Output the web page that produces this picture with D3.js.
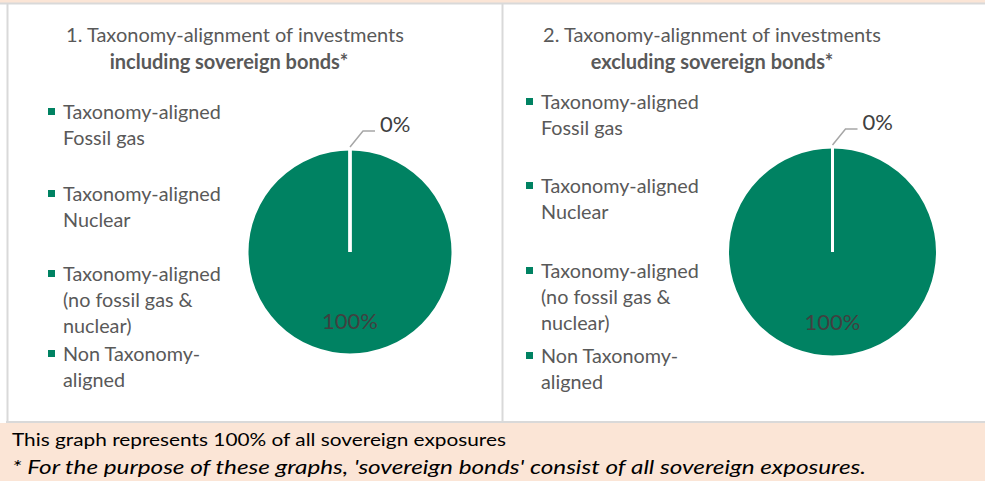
<!DOCTYPE html>
<html><head><meta charset="utf-8">
<script src="https://cdn.jsdelivr.net/npm/d3@7"></script>
<style>
html,body{margin:0;padding:0;background:#fff;}
svg{display:block;}
</style></head>
<body>
<svg id="c" width="985" height="481"></svg>
<script>
// ---- data ----
const categories = ["Taxonomy-aligned Fossil gas","Taxonomy-aligned Nuclear","Taxonomy-aligned (no fossil gas & nuclear)","Non Taxonomy-aligned"];
const legendLines = [["Taxonomy-aligned","Fossil gas"],["Taxonomy-aligned","Nuclear"],["Taxonomy-aligned","(no fossil gas &","nuclear)"],["Non Taxonomy-","aligned"]];
const valuesIncluding = [0,0,0,100];
const valuesExcluding = [0,0,0,100];
const titleLine1 = ["1. Taxonomy-alignment of investments","2. Taxonomy-alignment of investments"];
const titleLine2 = ["including sovereign bonds*","excluding sovereign bonds*"];
const footnote1 = "This graph represents 100% of all sovereign exposures";
const footnote2 = "* For the purpose of these graphs, 'sovereign bonds' consist of all sovereign exposures.";

const GREEN = "#008262", PEACH = "#FBE5D6", LINE = "#D9D9D9", TXT = "#595959";
const FONT = "Lato, 'Open Sans', sans-serif";
const svg = d3.select("#c");

// backgrounds
svg.append("rect").attr("x",0).attr("y",0).attr("width",985).attr("height",3).attr("fill",PEACH);
svg.append("rect").attr("x",0).attr("y",423).attr("width",985).attr("height",58).attr("fill",PEACH);
svg.append("line").attr("x1",0).attr("x2",985).attr("y1",3.5).attr("y2",3.5).attr("stroke",LINE).attr("stroke-width",2);
svg.append("line").attr("x1",6).attr("x2",985).attr("y1",422).attr("y2",422).attr("stroke",LINE).attr("stroke-width",2);
svg.append("line").attr("x1",7.5).attr("x2",7.5).attr("y1",3).attr("y2",422).attr("stroke",LINE).attr("stroke-width",2);
svg.append("line").attr("x1",502.5).attr("x2",502.5).attr("y1",3).attr("y2",422).attr("stroke",LINE).attr("stroke-width",2);

const panels = [
  {values: valuesIncluding, cx:350, cy:252, r:103, titleX:235, t2X:229, legX:48, legY:[112,194,274,354]},
  {values: valuesExcluding, cx:832.5, cy:252, r:105, titleX:712, t2X:712, legX:526, legY:[102,186,271,356]}
];

const pie = d3.pie().sort(null).value(d=>d);
panels.forEach((p,i)=>{
  const g = svg.append("g");
  // title
  g.append("text").attr("x",p.titleX).attr("y",42).attr("text-anchor","middle")
    .attr("font-family",FONT).attr("font-size",20).attr("fill",TXT).text(titleLine1[i]);
  g.append("text").attr("x",p.t2X).attr("y",69).attr("text-anchor","middle")
    .attr("font-family",FONT).attr("font-size",20).attr("font-weight","bold").attr("fill",TXT).text(titleLine2[i]);
  // legend
  legendLines.forEach((lines,k)=>{
    const y0 = p.legY[k];
    g.append("rect").attr("x",p.legX).attr("y",y0-4).attr("width",7).attr("height",7).attr("fill",GREEN);
    lines.forEach((ln,j)=>{
      g.append("text").attr("x",p.legX+15).attr("y",y0+j*26).attr("dy","0.35em")
        .attr("font-family",FONT).attr("font-size",19.8).attr("fill",TXT).text(ln);
    });
  });
  // pie
  const arcs = pie(p.values);
  const arc = d3.arc().innerRadius(0).outerRadius(p.r);
  const pg = g.append("g").attr("transform",`translate(${p.cx},${p.cy})`);
  pg.selectAll("path.s").data(arcs.slice().reverse()).join("path")
    .attr("d",arc).attr("fill",GREEN).attr("stroke","#fff").attr("stroke-width",3);
  // labels
  const big = arcs[3];
  const labArc = d3.arc().innerRadius(p.r*0.68).outerRadius(p.r*0.68);
  const c = labArc.centroid(big);
  pg.append("text").attr("x",c[0]).attr("y",c[1]-1).attr("dy","0.35em").attr("text-anchor","middle")
    .attr("font-family",FONT).attr("font-size",22).attr("fill","#404040").text(d3.format(".0%")(big.value/100));
  const z = arcs[0];
  const outer = d3.arc().innerRadius(p.r).outerRadius(p.r).centroid(z);
  const pts = [[outer[0], outer[1]-2],[outer[0]+13, outer[1]-18],[outer[0]+25, outer[1]-18]];
  pg.append("path").attr("d",d3.line()(pts)).attr("fill","none").attr("stroke","#A6A6A6").attr("stroke-width",1.5);
  pg.append("text").attr("x",pts[2][0]+5).attr("y",pts[2][1]-7).attr("dy","0.35em")
    .attr("font-family",FONT).attr("font-size",22).attr("fill","#404040").text(d3.format(".0%")(z.value/100));
});

// footnotes
svg.append("text").attr("x",12).attr("y",446).attr("font-family",FONT).attr("font-size",17)
  .attr("fill","#000").attr("textLength",494).attr("lengthAdjust","spacingAndGlyphs").text(footnote1);
svg.append("text").attr("x",12).attr("y",474).attr("font-family",FONT).attr("font-size",20).attr("font-style","italic")
  .attr("fill","#000").attr("textLength",854).attr("lengthAdjust","spacingAndGlyphs").text(footnote2);
</script>
</body></html>
